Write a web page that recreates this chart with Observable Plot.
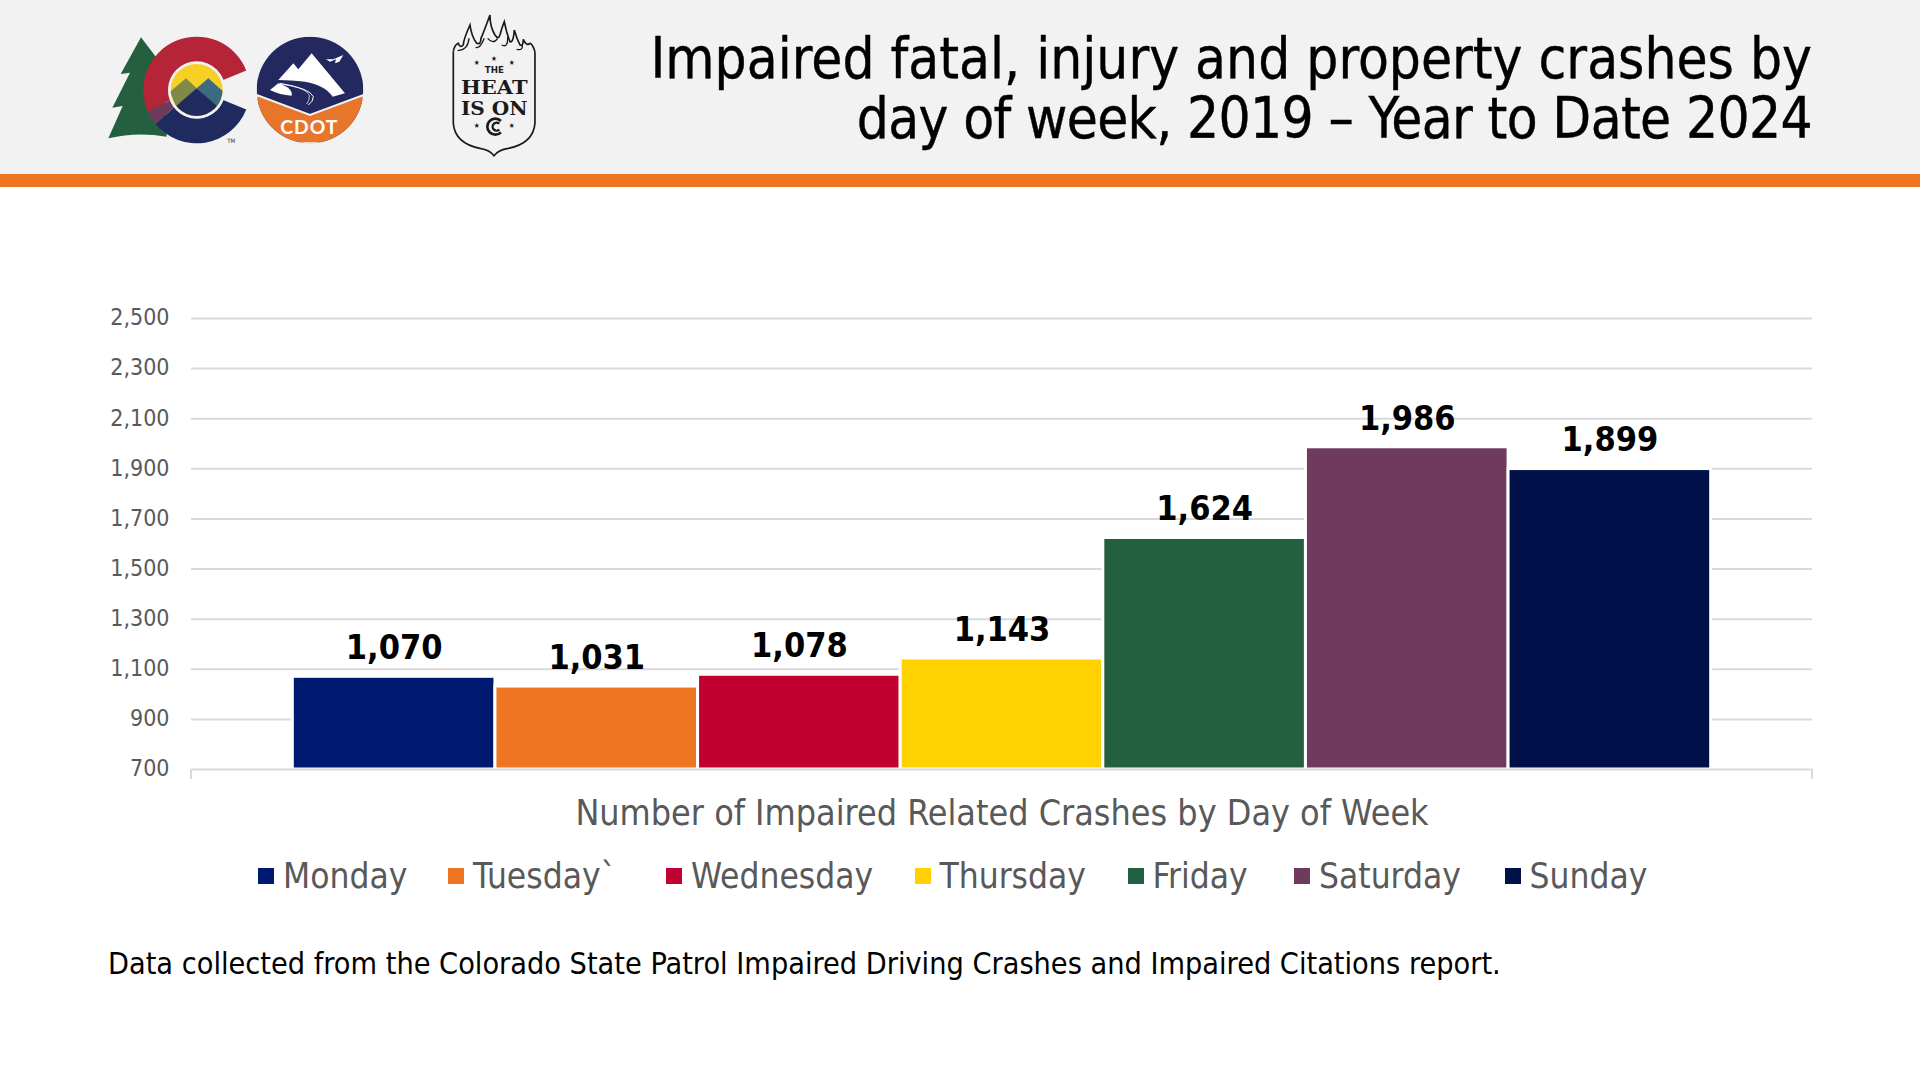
<!DOCTYPE html>
<html>
<head>
<meta charset="utf-8">
<script src="https://cdn.jsdelivr.net/npm/d3@7"></script>
<script src="https://cdn.jsdelivr.net/npm/@observablehq/plot@0.6"></script>
<style>
  html, body { margin: 0; background: #fff; }
  body { width: 1920px; height: 1080px; position: relative; overflow: hidden;
    font-family: "DejaVu Sans Condensed", "DejaVu Sans", sans-serif; font-stretch: condensed; }
  #header { position: absolute; left: 0; top: 0; width: 1920px; height: 174px; background: #f2f2f2; border-bottom: 13px solid #ee7623; }
  #logos { position: absolute; left: 0; top: 0; font-stretch: normal; }
  #title { position: absolute; right: 108px; top: 28.5px; text-align: right; font-size: 56.2px; line-height: 60px; color: #000; white-space: nowrap; -webkit-text-stroke: 0.4px #000; }
  #title span { letter-spacing: -0.65px; }
  #chart { position: absolute; left: 0; top: 260px; }
  #legend { position: absolute; left: 258px; top: 851px; display: flex; font-size: 35px; line-height: 50px; color: #595959; white-space: nowrap; }
  #legend .item { display: flex; align-items: center; }
  #legend .item:nth-child(1) { width: 190px; }
  #legend .item:nth-child(2) { width: 218px; }
  #legend .item:nth-child(3) { width: 248.5px; }
  #legend .item:nth-child(4) { width: 213px; }
  #legend .item:nth-child(5) { width: 166.5px; }
  #legend .item:nth-child(6) { width: 210.5px; }
  #legend .swatch { width: 16px; height: 16px; margin-right: 9px; }
  #note { position: absolute; left: 108px; top: 944px; font-size: 30.3px; line-height: 40px; color: #000; white-space: nowrap; }
</style>
</head>
<body>
<div id="header"></div>
<svg id="logos" width="700" height="174">
  <g transform="translate(80,0) scale(0.3333)">
    <!-- Colorado logo -->
    <path d="M183,112L122,222L150,218L97,323L128,318L85,415Q170,395 260,410L250,200Z" fill="#24603f"/>
    <path d="M498.8,211.3A160,160 0 1 0 203.8,335.1L270.7,300.5A85,85 0 0 1 429.6,240.1Z" fill="#b52437"/>
    <path d="M203.8,335.1L270.7,300.5A85,85 0 0 0 282.5,321.6L227.2,372.6A160,160 0 0 1 203.8,335.1Z" fill="#6d3c5c"/>
    <path d="M227.2,372.6L282.5,321.6A85,85 0 0 0 429.6,299.9L498.8,328.7A160,160 0 0 1 227.2,372.6Z" fill="#1f2a5e"/>
    <clipPath id="disk"><circle cx="350" cy="270" r="78"/></clipPath>
    <circle cx="350" cy="270" r="86" fill="#f2f2f2"/>
    <g clip-path="url(#disk)">
      <rect x="270" y="190" width="160" height="160" fill="#f7d026"/>
      <path d="M270,275L318,235L350,265L290,325Z" fill="#7f8a45"/>
      <path d="M350,265L385,235L430,275L415,325Z" fill="#3c6a80"/>
      <path d="M350,265L425,330L350,355L275,330Z" fill="#1f2a5e"/>
    </g>
    <text x="442" y="428" font-size="18" fill="#333">TM</text>
    <!-- CDOT logo -->
    <clipPath id="cdot"><circle cx="180" cy="180" r="160"/></clipPath>
    <g transform="translate(510,90)" clip-path="url(#cdot)">
      <rect x="20" y="20" width="320" height="320" fill="#23295f"/>
      <path d="M20,195L180,255L340,195V340H20Z" fill="#e8762a" stroke="#f2f2f2" stroke-width="6"/>
      <path d="M85,150L130,100L145,118L185,70L285,190L248,200Q225,165 165,155Q120,150 85,150Z" fill="#fff"/>
      <path d="M60,180L85,160Q130,175 125,197Q90,195 60,180Z" fill="#fff"/>
      <path d="M90,160Q180,175 190,200Q190,215 175,225" fill="none" stroke="#fff" stroke-width="3"/>
      <path d="M85,162Q165,170 178,195Q180,210 170,222" fill="none" stroke="#fff" stroke-width="2"/>
      <path d="M228,88L250,88L280,75L268,95L255,100L258,88L240,95Z" fill="#fff"/>
      <text x="178" y="312" font-size="58" font-weight="bold" fill="#fff" text-anchor="middle" letter-spacing="3" font-family="Lato, sans-serif">CDOT</text>
    </g>
    <!-- Heat is on badge -->
    <g transform="translate(1095,30)" fill="#1a1a1a">
      <path d="M25,125V340Q30,400 105,415Q135,420 147,437Q160,420 190,415Q265,400 270,340V125" fill="none" stroke="#1a1a1a" stroke-width="5"/>
      <path d="M25,125Q28,105 40,100Q45,115 55,105Q55,90 75,45Q80,80 95,100Q108,105 108,85Q115,70 135,15Q135,50 150,75Q160,90 165,75Q170,55 178,35Q185,70 195,95Q205,100 208,60Q215,85 225,105Q235,110 235,88Q245,110 255,100Q262,100 270,125" fill="none" stroke="#1a1a1a" stroke-width="5"/>
      <path d="M38,122Q70,120 72,85M92,112Q105,118 118,85M128,85Q145,105 158,85M170,105Q190,115 188,80M215,118Q235,122 232,105" fill="none" stroke="#1a1a1a" stroke-width="4"/>
      <text x="148" y="190" font-size="26" font-weight="bold" text-anchor="middle" font-family="'DejaVu Sans', sans-serif">THE</text>
      <text x="148" y="253" font-size="53" font-weight="bold" text-anchor="middle" font-family="'DejaVu Serif', serif" textLength="200" lengthAdjust="spacingAndGlyphs">HEAT</text>
      <text x="148" y="316" font-size="53" font-weight="bold" text-anchor="middle" font-family="'DejaVu Serif', serif" textLength="200" lengthAdjust="spacingAndGlyphs">IS ON</text>
      <path d="M168,333A24,24 0 1 0 168,367" fill="none" stroke="#1a1a1a" stroke-width="8"/>
      <path d="M163,341A12,12 0 1 0 163,359" fill="none" stroke="#1a1a1a" stroke-width="7"/>
      <text x="95" y="165" font-size="22" text-anchor="middle">★</text>
      <text x="147" y="152" font-size="22" text-anchor="middle">★</text>
      <text x="200" y="165" font-size="22" text-anchor="middle">★</text>
      <text x="95" y="355" font-size="22" text-anchor="middle">★</text>
      <text x="200" y="355" font-size="22" text-anchor="middle">★</text>
    </g>
  </g>
</svg>
<div id="title">Impaired fatal, injury and property crashes by<br><span>day of week, 2019 – Year to Date 2024</span></div>
<div id="chart"></div>
<div id="legend"></div>
<div id="note">Data collected from the Colorado State Patrol Impaired Driving Crashes and Impaired Citations report.</div>
<script>
const days = ['Monday', 'Tuesday', 'Wednesday', 'Thursday', 'Friday', 'Saturday', 'Sunday']
const crashes = [1070, 1031, 1078, 1143, 1624, 1986, 1899]
const dayColors = ['#001970', '#ee7623', '#c10230', '#ffd100', '#236040', '#6f3a5d', '#00114a']
const legendLabels = ['Monday', 'Tuesday`', 'Wednesday', 'Thursday', 'Friday', 'Saturday', 'Sunday']
const yTicks = [700, 900, 1100, 1300, 1500, 1700, 1900, 2100, 2300, 2500]

const data = days.map((day, i) => ({day, value: crashes[i]}))
const numFormat = d3.format(',')
const fontFamily = '"DejaVu Sans Condensed", "DejaVu Sans", sans-serif'

// small marks at both ends of the x axis
const axisEnds = (index, scales, values, dim) => {
  const yBase = dim.height - dim.marginBottom
  const g = d3.create('svg:path')
    .attr('fill', 'none')
    .attr('stroke', '#d9d9d9')
    .attr('stroke-width', 2)
    .attr('d', `M${dim.marginLeft},${yBase}v10M${dim.width - dim.marginRight},${yBase}v10`)
  return g.node()
}

const chart = Plot.plot({
  width: 1920,
  height: 590,
  marginLeft: 191,
  marginRight: 108,
  marginTop: 58,
  marginBottom: 81,
  style: {fontFamily, background: 'transparent'},
  x: {domain: days, paddingInner: 0, paddingOuter: 0.5, round: false},
  y: {domain: [700, 2500]},
  color: {domain: days, range: dayColors},
  marks: [
    Plot.ruleY(yTicks.slice(1), {stroke: '#d9d9d9', strokeWidth: 2}),
    Plot.barY(data, {x: 'day', y1: 700, y2: 'value', fill: 'day', stroke: '#fff', strokeWidth: 3}),
    Plot.ruleY([700], {stroke: '#d9d9d9', strokeWidth: 2}),
    axisEnds,
    Plot.text(data, {x: 'day', y: 'value', text: d => numFormat(d.value), dy: -28.5, fontSize: 34, fontWeight: 'bold', fill: '#000'}),
    Plot.axisY({ticks: yTicks, tickSize: 0, tickPadding: 22, dy: -0.5, tickFormat: numFormat, label: null, fontSize: 23, color: '#595959'}),
    Plot.axisX({ticks: [], label: 'Number of Impaired Related Crashes by Day of Week', labelAnchor: 'center', labelArrow: 'none', labelOffset: 55, fontSize: 35.6, color: '#595959'})
  ]
})
d3.select('#chart').append(() => chart)

const legend = d3.select('#legend')
legendLabels.forEach((label, i) => {
  const item = legend.append('div').attr('class', 'item')
  item.append('div').attr('class', 'swatch').style('background', dayColors[i])
  item.append('div').text(label)
})
</script>
</body>
</html>
